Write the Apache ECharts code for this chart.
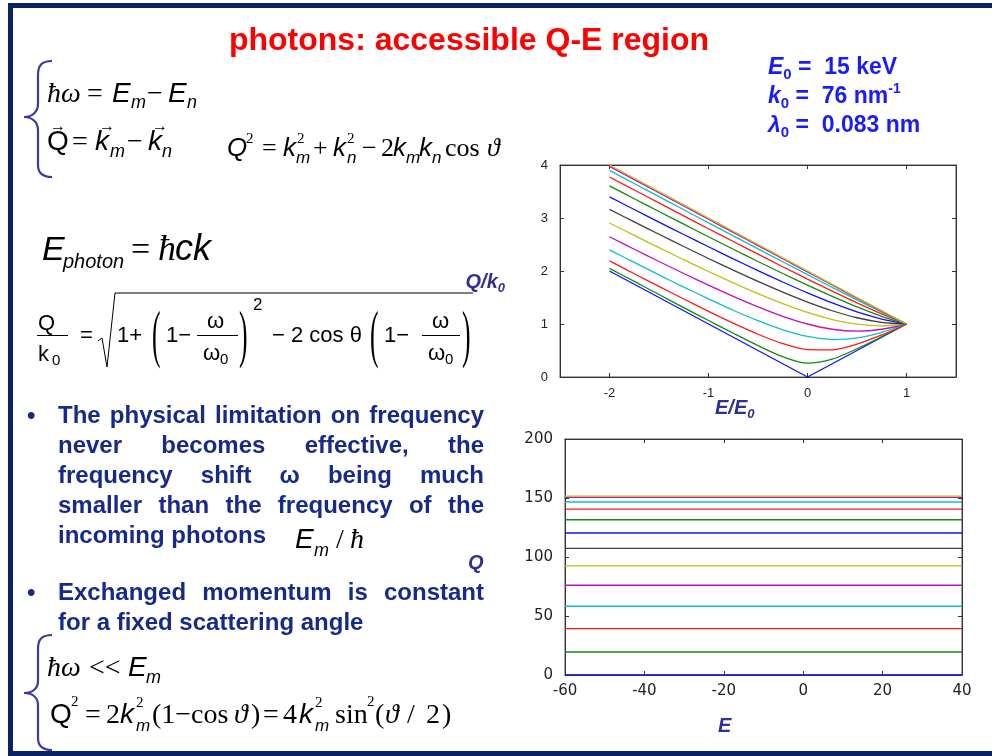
<!DOCTYPE html>
<html>
<head>
<meta charset="utf-8">
<script src="https://cdn.jsdelivr.net/npm/echarts@6/dist/echarts.min.js"></script>
<style>
  html, body { margin: 0; padding: 0; background: #ffffff; }
  #page { position: relative; width: 992px; height: 756px; overflow: hidden; background: #ffffff; }
  #chart { position: absolute; left: 0; top: 0; width: 992px; height: 756px; }
  #ov { position: absolute; left: 0; top: 0; pointer-events: none; }
  .bar { position: absolute; background: #0b2161; }
  .ln { position: absolute; left: 58px; width: 426px; height: 30px; line-height: 30px; white-space: nowrap;
        font-family: 'Liberation Sans', Arial, sans-serif; font-weight: bold; font-size: 24px; color: #172a8c; }
  .ln.j { text-align: justify; text-align-last: justify; white-space: normal; }
  .dot { position: absolute; left: 27px; line-height: 30px; font-family: 'Liberation Sans', Arial, sans-serif;
         font-weight: bold; font-size: 24px; color: #172a8c; }
  #ov .s { font-family: 'Liberation Sans', Arial, sans-serif; }
  #ov .r { font-family: 'Liberation Serif', 'Times New Roman', serif; }
  #ov .i { font-style: italic; }
  #ov .b { font-weight: bold; }
  #ov text { white-space: pre; }
</style>
</head>
<body>
<div id="page">
  <div class="bar" style="left:8px;top:3px;width:984px;height:5px"></div>
  <div class="bar" style="left:8px;top:3px;width:5px;height:753px"></div>
  <div class="bar" style="left:8px;top:751px;width:984px;height:5px"></div>

  <div id="chart"></div>

  <svg id="ov" width="992" height="756" xmlns="http://www.w3.org/2000/svg">
    <!-- title -->
    <text class="s b" x="469" y="50" font-size="32" fill="#ff0000" text-anchor="middle">photons: accessible Q-E region</text>

    <!-- beam parameters -->
    <g class="s b" fill="#1a1aff" font-size="23">
      <text x="768" y="74"><tspan class="i">E</tspan><tspan font-size="15" dy="5">0</tspan><tspan dy="-5"> =  15 keV</tspan></text>
      <text x="768" y="103"><tspan class="i">k</tspan><tspan font-size="15" dy="5">0</tspan><tspan dy="-5"> =  76 nm</tspan><tspan font-size="14" dy="-10">-1</tspan></text>
      <text x="768" y="132"><tspan class="i">λ</tspan><tspan font-size="15" dy="5">0</tspan><tspan dy="-5"> =  0.083 nm</tspan></text>
    </g>

    <!-- braces -->
    <path d="M52,61 C42,61 38,65 38,75 L38,104 C38,112 32,117 24,117 C32,117 38,122 38,130 L38,165 C38,173 42,177 52,177" fill="none" stroke="#3a3aa0" stroke-width="2.2"/>
    <path d="M52,635 C42,635 38,639 38,649 L38,681 C38,689 32,693 24,693 C32,693 38,697 38,705 L38,738 C38,746 42,750 52,750" fill="none" stroke="#3a3aa0" stroke-width="2.2"/>

    <!-- energy and momentum conservation -->
    <g fill="#000">
      <text class="r i" x="47" y="102" font-size="28">ħω</text>
      <text class="r" x="87" y="102" font-size="28">=</text>
      <text class="s i" x="112" y="102" font-size="28">E</text>
      <text class="s i" x="131" y="108" font-size="18">m</text>
      <text class="r" x="147" y="102" font-size="28">−</text>
      <text class="s i" x="168" y="102" font-size="28">E</text>
      <text class="s i" x="187" y="108" font-size="18">n</text>

      <text class="s" x="47" y="150" font-size="28">Q</text>
      <text class="r" x="50" y="131" font-size="16">→</text>
      <text class="r" x="72" y="150" font-size="28">=</text>
      <text class="s i" x="95" y="150" font-size="28">k</text>
      <text class="r" x="99" y="131" font-size="16">→</text>
      <text class="s i" x="110" y="157" font-size="18">m</text>
      <text class="r" x="127" y="150" font-size="28">−</text>
      <text class="s i" x="148" y="150" font-size="28">k</text>
      <text class="r" x="152" y="131" font-size="16">→</text>
      <text class="s i" x="162" y="157" font-size="18">n</text>

      <text class="s i" x="227" y="156" font-size="26">Q</text>
      <text class="r" x="246" y="143" font-size="15">2</text>
      <text class="r" x="262" y="156" font-size="26">=</text>
      <text class="s i" x="283" y="156" font-size="26">k</text>
      <text class="r" x="297" y="143" font-size="15">2</text>
      <text class="s i" x="296" y="163" font-size="17">m</text>
      <text class="r" x="313" y="156" font-size="26">+</text>
      <text class="s i" x="333" y="156" font-size="26">k</text>
      <text class="r" x="347" y="143" font-size="15">2</text>
      <text class="s i" x="347" y="163" font-size="17">n</text>
      <text class="r" x="362" y="156" font-size="26">−</text>
      <text class="r" x="381" y="156" font-size="26">2</text>
      <text class="s i" x="393" y="156" font-size="26">k</text>
      <text class="s i" x="406" y="163" font-size="17">m</text>
      <text class="s i" x="419" y="156" font-size="26">k</text>
      <text class="s i" x="432" y="163" font-size="17">n</text>
      <text class="r" x="445" y="156" font-size="26">cos</text>
      <text class="r i" x="487" y="156" font-size="26">ϑ</text>

      <!-- photon dispersion -->
      <text class="s i" x="42" y="260" font-size="34">E</text>
      <text class="s i" x="63" y="268" font-size="20">photon</text>
      <text class="r" x="131" y="260" font-size="34">=</text>
      <text class="r i" x="158" y="260" font-size="36">ħ</text>
      <text class="s i" x="175" y="260" font-size="36">ck</text>

      <!-- Q/k0 as a function of ω/ω0 -->
      <text class="s" x="38" y="330" font-size="22">Q</text>
      <line x1="37" y1="335.5" x2="68" y2="335.5" stroke="#000" stroke-width="1"/>
      <text class="s" x="38" y="361" font-size="22">k</text>
      <text class="s" x="52" y="365" font-size="15">0</text>
      <text class="s" x="80" y="342" font-size="22">=</text>
      <path d="M98,341 L102,338 L107,367 L115,293 L473,293" fill="none" stroke="#000" stroke-width="1"/>
      <text class="s" x="117" y="342" font-size="22">1+</text>
      <text class="r" font-size="32" transform="translate(152,355) scale(0.8,2)">(</text>
      <text class="s" x="166" y="342" font-size="22">1−</text>
      <text class="s" x="207" y="328" font-size="22">ω</text>
      <line x1="197" y1="335.5" x2="238" y2="335.5" stroke="#000" stroke-width="1"/>
      <text class="s" x="203" y="360" font-size="22">ω</text>
      <text class="s" x="220" y="364" font-size="15">0</text>
      <text class="r" font-size="32" transform="translate(239,355) scale(0.8,2)">)</text>
      <text class="s" x="253" y="310" font-size="17">2</text>
      <text class="s" x="272" y="342" font-size="22">− 2 cos θ</text>
      <text class="r" font-size="32" transform="translate(370,355) scale(0.8,2)">(</text>
      <text class="s" x="384" y="342" font-size="22">1−</text>
      <text class="s" x="432" y="328" font-size="22">ω</text>
      <line x1="422" y1="335.5" x2="460" y2="335.5" stroke="#000" stroke-width="1"/>
      <text class="s" x="428" y="360" font-size="22">ω</text>
      <text class="s" x="445" y="364" font-size="15">0</text>
      <text class="r" font-size="32" transform="translate(462,355) scale(0.8,2)">)</text>

      <!-- incoming photon frequency -->
      <text class="s i" x="295" y="548" font-size="28">E</text>
      <text class="s i" x="314" y="556" font-size="18">m</text>
      <text class="r" x="336" y="548" font-size="28">/</text>
      <text class="r i" x="350" y="548" font-size="28">ħ</text>

      <!-- small energy transfer limit -->
      <text class="r i" x="47" y="676" font-size="28">ħω</text>
      <text class="r" x="89" y="676" font-size="28">&lt;&lt;</text>
      <text class="s i" x="128" y="676" font-size="28">E</text>
      <text class="s i" x="146" y="683" font-size="18">m</text>

      <text class="s" x="50" y="723" font-size="28">Q</text>
      <text class="r" x="71" y="706" font-size="15">2</text>
      <text class="r" x="85" y="723" font-size="28">=</text>
      <text class="r" x="106" y="723" font-size="28">2</text>
      <text class="s i" x="120" y="723" font-size="28">k</text>
      <text class="r" x="136" y="707" font-size="15">2</text>
      <text class="s i" x="136" y="731" font-size="17">m</text>
      <text class="r" x="152" y="723" font-size="28">(1−cos</text>
      <text class="r i" x="234" y="723" font-size="28">ϑ</text>
      <text class="r" x="251" y="723" font-size="28">)</text>
      <text class="r" x="263" y="723" font-size="28">=</text>
      <text class="r" x="283" y="723" font-size="28">4</text>
      <text class="s i" x="299" y="723" font-size="28">k</text>
      <text class="r" x="315" y="707" font-size="15">2</text>
      <text class="s i" x="315" y="731" font-size="17">m</text>
      <text class="r" x="335" y="723" font-size="28">sin</text>
      <text class="r" x="367" y="706" font-size="15">2</text>
      <text class="r" x="375" y="723" font-size="28">(</text>
      <text class="r i" x="385" y="723" font-size="28">ϑ</text>
      <text class="r" x="407" y="723" font-size="28">/</text>
      <text class="r" x="426" y="723" font-size="28">2</text>
      <text class="r" x="442" y="723" font-size="28">)</text>
    </g>

    <!-- axis titles -->
    <g class="s b i" fill="#2e3192" font-size="20">
      <text x="505" y="288" text-anchor="end">Q/k<tspan font-size="13" dy="4">0</tspan></text>
      <text x="715" y="414">E/E<tspan font-size="13" dy="4">0</tspan></text>
      <text x="468" y="569">Q</text>
      <text x="718" y="732">E</text>
    </g>
  </svg>

  <div class="dot" style="top:400px">•</div>
  <div class="ln j" style="top:400px">The physical limitation on frequency</div>
  <div class="ln j" style="top:430px">never becomes effective, the</div>
  <div class="ln j" style="top:460px">frequency shift ω being much</div>
  <div class="ln j" style="top:490px">smaller than the frequency of the</div>
  <div class="ln" style="top:520px">incoming photons</div>
  <div class="dot" style="top:577px">•</div>
  <div class="ln j" style="top:577px">Exchanged momentum is constant</div>
  <div class="ln" style="top:607px">for a fixed scattering angle</div>
</div>

<script>
// Energy transfer E/E0 sampled along the upper curves
const eRatio = [-2, -1.75, -1.5, -1.25, -1, -0.75, -0.5, -0.25, 0, 0.25, 0.5, 0.75, 1];

// Q/k0 for scattering angles 0°, 15°, ... 180°
const qk000 = [2, 1.75, 1.5, 1.25, 1, 0.75, 0.5, 0.25, 0, 0.25, 0.5, 0.75, 1];
const qk015 = [2.05, 1.803, 1.556, 1.31, 1.066, 0.826, 0.593, 0.384, 0.261, 0.337, 0.533, 0.761, 1];
const qk030 = [2.192, 1.949, 1.709, 1.472, 1.239, 1.016, 0.807, 0.63, 0.518, 0.513, 0.62, 0.793, 1];
const qk045 = [2.399, 2.162, 1.927, 1.697, 1.474, 1.26, 1.062, 0.891, 0.765, 0.708, 0.737, 0.842, 1];
const qk060 = [2.646, 2.411, 2.179, 1.953, 1.732, 1.521, 1.323, 1.146, 1, 0.901, 0.866, 0.901, 1];
const qk075 = [2.906, 2.672, 2.44, 2.213, 1.991, 1.777, 1.573, 1.384, 1.218, 1.084, 0.996, 0.966, 1];
const qk090 = [3.162, 2.926, 2.693, 2.462, 2.236, 2.016, 1.803, 1.601, 1.414, 1.25, 1.118, 1.031, 1];
const qk105 = [3.399, 3.16, 2.923, 2.688, 2.457, 2.229, 2.007, 1.792, 1.587, 1.397, 1.228, 1.092, 1];
const qk120 = [3.606, 3.363, 3.122, 2.883, 2.646, 2.411, 2.179, 1.953, 1.732, 1.521, 1.323, 1.146, 1];
const qk135 = [3.774, 3.529, 3.284, 3.04, 2.798, 2.557, 2.318, 2.081, 1.848, 1.62, 1.399, 1.19, 1];
const qk150 = [3.898, 3.65, 3.403, 3.156, 2.909, 2.663, 2.418, 2.174, 1.932, 1.692, 1.455, 1.223, 1];
const qk165 = [3.974, 3.725, 3.476, 3.226, 2.977, 2.728, 2.479, 2.231, 1.983, 1.735, 1.489, 1.243, 1];
const qk180 = [4, 3.75, 3.5, 3.25, 3, 2.75, 2.5, 2.25, 2, 1.75, 1.5, 1.25, 1];

// Q (nm^-1) at the same angles, over energy transfer E (meV)
const qLevels = [0, 19.5, 39.3, 58.2, 76, 92.5, 107.3, 120.3, 131.6, 140.6, 146.6, 150.5, 151.6];
const eRange = [-60, 40];

// Tick values
const topETicks = [-2, -1, 0, 1];
const topQTicks = [0, 1, 2, 3, 4];
const lowETicks = [-60, -40, -20, 0, 20, 40];
const lowQTicks = [0, 50, 100, 150, 200];

const palette = ['#1010ff', '#108a10', '#ff1a1a', '#10c0c0', '#c010c0', '#c0c010', '#404040',
                 '#1010ff', '#108a10', '#ff1a1a', '#10c0c0', '#c010c0', '#c0c010'];

const topCurves = [qk000, qk015, qk030, qk045, qk060, qk075, qk090, qk105, qk120, qk135, qk150, qk165, qk180];

const chart = echarts.init(document.getElementById('chart'), null, { renderer: 'canvas' });

const labelFont = "'Liberation Sans', Arial, sans-serif";
const axisColor = '#333';

function boxAxis(extra) {
  return Object.assign({
    type: 'value',
    axisLine: { show: true, onZero: false, lineStyle: { color: axisColor, width: 1 } },
    axisTick: { show: true, inside: true, length: 4, lineStyle: { color: axisColor } },
    splitLine: { show: false }
  }, extra);
}

const series = [];
topCurves.forEach((vals, i) => {
  series.push({
    type: 'line', xAxisIndex: 0, yAxisIndex: 0,
    data: eRatio.map((e, k) => [e, vals[k]]),
    showSymbol: false, smooth: i === 0 ? false : 0.3,
    lineStyle: { color: palette[i], width: 1.3 },
    animation: false, silent: true
  });
});
qLevels.forEach((q, i) => {
  series.push({
    type: 'line', xAxisIndex: 2, yAxisIndex: 2,
    data: eRange.map(e => [e, q]),
    showSymbol: false,
    lineStyle: { color: palette[i], width: 1.4 },
    animation: false, silent: true
  });
});

chart.setOption({
  backgroundColor: 'transparent',
  animation: false,
  grid: [
    { left: 560, top: 165, width: 396, height: 212, show: true, borderColor: '#555', borderWidth: 1, backgroundColor: 'transparent' },
    { left: 565, top: 439, width: 397, height: 236, show: true, borderColor: '#555', borderWidth: 1, backgroundColor: 'transparent' }
  ],
  xAxis: [
    boxAxis({ gridIndex: 0, position: 'bottom', min: -2.5, max: 1.5,
      axisTick: { show: true, inside: true, length: 4, customValues: topETicks, lineStyle: { color: axisColor } },
      axisLabel: { customValues: topETicks, margin: 10, fontSize: 13, color: '#222', fontFamily: labelFont } }),
    boxAxis({ gridIndex: 0, position: 'top', min: -2.5, max: 1.5,
      axisTick: { show: true, inside: true, length: 4, customValues: topETicks, lineStyle: { color: axisColor } },
      axisLabel: { show: false } }),
    boxAxis({ gridIndex: 1, position: 'bottom', min: eRange[0], max: eRange[1], interval: 20,
      axisLabel: { margin: 9, fontSize: 15, color: '#222', fontFamily: 'DejaVu Sans, sans-serif' } }),
    boxAxis({ gridIndex: 1, position: 'top', min: eRange[0], max: eRange[1], interval: 20,
      axisLabel: { show: false } })
  ],
  yAxis: [
    boxAxis({ gridIndex: 0, position: 'left', min: topQTicks[0], max: topQTicks[4], interval: 1,
      axisLabel: { margin: 12, fontSize: 13, color: '#222', fontFamily: labelFont } }),
    boxAxis({ gridIndex: 0, position: 'right', min: topQTicks[0], max: topQTicks[4], interval: 1,
      axisLabel: { show: false } }),
    boxAxis({ gridIndex: 1, position: 'left', min: lowQTicks[0], max: lowQTicks[4], interval: 50,
      axisLabel: { margin: 12, fontSize: 15, color: '#222', fontFamily: 'DejaVu Sans, sans-serif' } }),
    boxAxis({ gridIndex: 1, position: 'right', min: lowQTicks[0], max: lowQTicks[4], interval: 50,
      axisLabel: { show: false } })
  ],
  series: series
});
</script>
</body>
</html>
